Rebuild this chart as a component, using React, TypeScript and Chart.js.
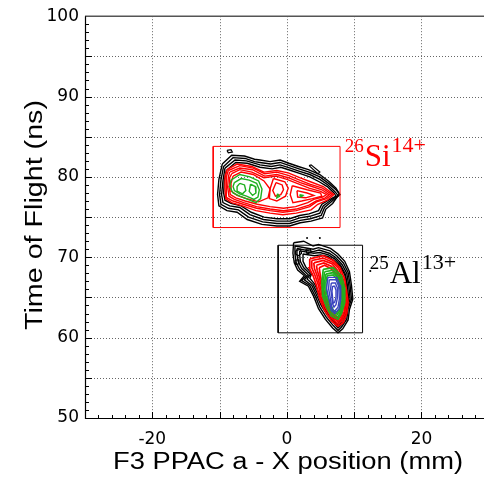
import React, { useEffect, useRef } from "react";
import { Chart, registerables } from "chart.js";

Chart.register(...registerables);

// Axis ranges and tick labels
const X_MIN = -30;
const X_MAX = 28.7;
const Y_MIN = 50;
const Y_MAX = 100;
const X_TICK_LABELS = [-20, 0, 20];
const Y_TICK_LABELS = [50, 60, 70, 80, 90, 100];
const X_GRID = [-20, -10, 0, 10, 20];
const Y_GRID = [55, 60, 65, 70, 75, 80, 85, 90, 95];

const X_TITLE = "F3 PPAC a - X position (mm)";
const Y_TITLE = "Time of Flight (ns)";

// Gate boxes [xMin, xMax, yMin, yMax]
const SI_BOX = [-10.95, 7.9, 73.7, 83.8];
const AL_BOX = [-1.3, 11.25, 60.6, 71.5];

// Label anchors (data coords of baseline start)
const SI_LABEL_AT = [8.6, 81.3];
const AL_LABEL_AT = [12.3, 66.8];

// 26Si contours
const SI_BLACK_OUT = [[-9.6,81.6],[-8.2,82.7],[-6.3,82.6],[-4.8,82.2],[-4.0,82.1],[-2.5,81.9],[-1.0,82.1],[0.3,81.7],[1.7,81.3],[3.2,80.9],[4.9,80.3],[6.3,79.4],[7.3,78.6],[7.8,77.9],[6.8,76.7],[5.8,76.0],[5.3,74.9],[3.6,74.5],[2.0,74.3],[0.4,73.9],[-1.5,73.9],[-3.7,74.1],[-5.9,74.7],[-7.4,75.6],[-8.9,75.8],[-10.1,76.4],[-10.3,77.8],[-10.1,79.7]];
const SI_BLACK_0 = [[-9.4,81.3],[-8.0,82.4],[-6.2,82.3],[-4.8,81.9],[-4.0,81.8],[-2.4,81.6],[-1.0,81.8],[0.4,81.4],[1.8,81.0],[3.3,80.6],[4.9,80.0],[6.2,79.2],[7.3,78.4],[7.9,77.8],[6.6,76.9],[5.6,76.2],[5.1,75.2],[3.5,74.8],[2.0,74.6],[0.4,74.2],[-1.5,74.2],[-3.6,74.4],[-5.7,75.0],[-7.2,75.9],[-8.7,76.1],[-9.8,76.6],[-10.0,77.8],[-9.8,79.6]];
const SI_BLACK_1 = [[-9.2,81.1],[-7.7,82.1],[-6.0,82.0],[-4.0,81.5],[-2.3,81.3],[-1.0,81.5],[0.5,81.1],[1.9,80.7],[3.4,80.3],[4.9,79.7],[6.1,79.0],[7.1,78.2],[7.6,77.7],[6.4,77.0],[5.4,76.4],[4.9,75.5],[3.4,75.1],[1.9,74.9],[0.5,74.5],[-1.5,74.5],[-3.5,74.7],[-5.5,75.3],[-7.0,76.2],[-8.5,76.4],[-9.5,76.8],[-9.7,77.8],[-9.5,79.5]];
const SI_BLACK_2 = [[-9.0,80.8],[-7.6,81.8],[-5.9,81.7],[-4.0,81.2],[-2.2,81.0],[-0.9,81.2],[0.6,80.8],[2.0,80.4],[3.4,80.0],[4.8,79.4],[6.0,78.8],[7.0,78.0],[7.3,77.6],[6.2,77.1],[5.2,76.6],[4.7,75.8],[3.3,75.4],[1.9,75.2],[0.4,74.8],[-1.5,74.8],[-3.4,75.0],[-5.3,75.6],[-6.8,76.4],[-8.3,76.7],[-9.2,77.1],[-9.4,78.0],[-9.3,79.5]];
const SI_BLACK_SPOT_1 = [[-8.9,83.3],[-8.3,83.4],[-8.1,83.1],[-8.7,83.0]];
const SI_BLACK_SPOT_2 = [[3.3,81.4],[3.6,81.5],[4.9,80.6],[4.6,80.4]];
const SI_RED_0 = [[-8.9,80.9],[-7.4,81.6],[-5.2,81.3],[-3.4,80.6],[-1.5,80.8],[0.2,80.5],[1.9,79.9],[3.5,79.4],[5.4,78.8],[7.0,77.8],[6.0,77.1],[4.6,76.6],[3.6,75.9],[1.4,75.5],[-0.6,75.3],[-2.5,75.5],[-4.6,75.8],[-6.6,76.4],[-8.2,76.8],[-9.1,77.3],[-9.2,78.6],[-9.2,80.0]];
const SI_RED_1 = [[-8.7,80.8],[-7.0,81.4],[-5.0,81.1],[-3.3,80.4],[-1.5,80.6],[0.2,80.2],[1.9,79.6],[3.4,79.1],[5.3,78.6],[6.7,77.8],[5.9,77.3],[4.4,76.9],[3.4,76.3],[1.4,75.8],[-0.6,75.6],[-2.5,75.8],[-4.5,76.1],[-6.5,76.6],[-8.0,77.0],[-8.9,77.4],[-9.0,78.6],[-9.0,80.0]];
const SI_RED_2 = [[-8.5,80.6],[-7.0,81.1],[-5.1,80.9],[-3.3,80.1],[-1.5,80.3],[0.2,79.9],[2.0,79.3],[3.4,78.9],[5.2,78.4],[6.3,77.8],[5.7,77.4],[4.3,77.0],[3.3,76.5],[1.4,76.0],[-0.5,75.8],[-2.5,76.0],[-4.5,76.3],[-6.4,76.8],[-7.8,77.2],[-8.6,77.6],[-8.8,78.7],[-8.7,80.0]];
const SI_RED_3 = [[-8.2,80.4],[-7.0,80.9],[-5.2,80.6],[-3.4,79.9],[-1.6,80.1],[0.0,79.7],[1.8,79.1],[3.3,78.6],[5.0,78.2],[5.9,77.8],[5.3,77.5],[4.0,77.2],[3.1,76.8],[1.3,76.3],[-0.5,76.1],[-2.5,76.3],[-4.4,76.6],[-6.2,77.0],[-7.6,77.4],[-8.4,77.8],[-8.6,78.8],[-8.5,79.9]];
const SI_RED_4 = [[-8.0,80.1],[-6.8,80.6],[-5.0,80.3],[-3.4,79.5],[-2.5,78.5],[-2.8,77.4],[-4.2,76.9],[-6.0,77.3],[-7.4,77.7],[-8.2,78.2],[-8.3,79.2]];
const SI_RED_5 = [[-2.0,79.8],[-0.3,79.4],[0.2,78.6],[-0.2,77.6],[-1.5,77.0],[-2.6,77.3],[-2.5,78.5]];
const SI_RED_6 = [[0.8,78.9],[3.0,78.4],[5.0,78.0],[5.2,77.6],[3.8,77.3],[2.2,77.0],[0.9,76.8],[0.5,77.8]];
const SI_RED_7 = [[1.5,78.3],[3.0,78.0],[4.0,77.7],[2.8,77.4],[1.6,77.5]];
const SI_RED_8 = [[-1.6,79.3],[-0.7,79.0],[-0.5,78.4],[-0.9,77.8],[-1.7,77.6],[-2.1,78.3]];
const SI_GREEN_1 = [[-8.3,79.6],[-7.0,80.3],[-5.5,80.0],[-4.2,79.5],[-3.7,78.5],[-3.9,77.3],[-4.6,76.8],[-5.8,77.2],[-7.0,77.6],[-8.0,78.0],[-8.5,78.8]];
const SI_GREEN_2 = [[-7.8,79.3],[-6.8,79.8],[-5.6,79.6],[-4.5,79.2],[-4.1,78.4],[-4.3,77.5],[-4.9,77.2],[-6.0,77.6],[-7.0,77.9],[-7.8,78.3],[-8.0,78.8]];
const SI_GREEN_3 = [[-7.0,79.2],[-6.3,79.0],[-6.1,78.3],[-6.6,77.9],[-7.3,78.2],[-7.4,78.8]];
const SI_GREEN_4 = [[-5.4,79.1],[-4.7,78.8],[-4.6,78.0],[-5.1,77.7],[-5.6,78.2]];
const SI_GREEN_5 = [[-1.4,77.9],[-1.1,77.6],[-1.5,77.4]];
const SI_GREEN_6 = [[1.9,77.8],[2.4,77.7],[2.1,77.5]];

// 25Al contours
const AL_BLACK_0 = [[1.0,71.8],[2.5,72.0],[3.9,71.4],[4.7,71.6],[6.5,71.1],[7.6,70.4],[8.6,69.5],[9.3,68.2],[9.6,66.5],[9.8,64.8],[9.3,63.5],[9.1,62.2],[8.3,61.1],[7.6,60.6],[6.8,61.2],[5.7,62.3],[4.7,63.6],[4.0,65.1],[3.2,66.4],[1.9,67.0],[2.6,67.7],[1.6,68.4],[1.1,69.3],[0.9,70.5]];
const AL_BLACK_1 = [[1.2,71.4],[3.9,71.0],[4.7,71.2],[6.4,70.8],[7.4,70.2],[8.4,69.3],[9.1,68.1],[9.4,66.5],[9.6,64.8],[9.1,63.6],[8.9,62.3],[8.1,61.3],[7.6,60.9],[6.9,61.5],[5.9,62.5],[4.9,63.8],[4.2,65.2],[3.4,66.5],[2.2,67.1],[2.9,67.7],[1.9,68.5],[1.4,69.3],[1.2,70.4]];
const AL_BLACK_2 = [[1.5,71.1],[3.9,70.7],[4.8,70.9],[6.3,70.5],[7.2,70.0],[8.2,69.1],[8.9,68.0],[9.2,66.5],[9.4,64.8],[8.9,63.6],[8.7,62.4],[8.0,61.5],[7.6,61.2],[7.0,61.8],[6.0,62.8],[5.1,64.0],[4.4,65.3],[3.7,66.5],[2.6,67.2],[3.2,67.8],[2.2,68.6],[1.7,69.4],[1.5,70.4]];
const AL_BLACK_3 = [[1.9,70.8],[4.0,70.5],[4.9,70.6],[6.2,70.3],[7.1,69.8],[8.0,69.0],[8.7,67.9],[9.0,66.5],[9.2,64.8],[8.8,63.6],[8.5,62.5],[7.9,61.7],[7.5,61.4],[7.0,62.0],[6.1,63.0],[5.3,64.1],[4.6,65.4],[3.9,66.6],[3.0,67.3],[3.5,67.9],[2.5,68.7],[2.0,69.5],[1.9,70.3]];
const AL_BLACK_4 = [[2.4,70.4],[4.1,70.2],[5.0,70.3],[6.1,70.1],[7.0,69.6],[7.9,68.9],[8.6,67.8],[8.9,66.5],[9.0,64.8],[8.7,63.6],[8.4,62.6],[7.8,61.9],[7.4,61.6],[7.0,62.2],[6.2,63.1],[5.5,64.2],[4.8,65.5],[4.1,66.7],[3.4,67.4],[3.7,68.0],[2.8,68.8],[2.4,69.5]];
const AL_BLACK_LOOP_1 = [[1.3,70.8],[2.0,71.0],[2.2,70.5],[1.7,70.2],[1.3,70.4]];
const AL_BLACK_LOOP_2 = [[2.8,71.0],[3.5,71.0],[3.6,70.6],[3.0,70.4]];
const AL_BLACK_LOOP_3 = [[1.2,69.6],[1.7,69.7],[1.8,69.2],[1.3,69.1]];
const STRAY_DOTS = [[3.0,72.4],[4.9,72.4],[12.4,68.3]];
const AL_RED_1 = [[3.4,69.8],[5.4,70.2],[6.9,69.6],[7.9,68.7],[8.6,67.3],[8.9,65.6],[9.1,64.4],[8.9,63.0],[8.4,61.9],[7.6,61.4],[6.6,62.1],[5.6,63.4],[4.9,64.8],[4.4,66.5],[3.9,67.7],[3.3,68.7]];
const AL_RED_2 = [[3.7,69.6],[5.4,69.9],[6.8,69.4],[7.7,68.6],[8.4,67.2],[8.7,65.6],[8.9,64.4],[8.7,63.1],[8.2,62.1],[7.6,61.7],[6.7,62.4],[5.8,63.6],[5.1,64.9],[4.7,66.5],[4.2,67.7],[3.7,68.7]];
const AL_RED_3 = [[4.0,69.3],[5.4,69.6],[6.7,69.2],[7.5,68.4],[8.2,67.1],[8.5,65.6],[8.7,64.4],[8.5,63.2],[8.1,62.3],[7.6,62.0],[6.8,62.6],[6.0,63.8],[5.3,65.0],[4.9,66.5],[4.5,67.7],[4.1,68.6]];
const AL_RED_4 = [[4.4,69.0],[5.5,69.3],[6.6,68.9],[7.4,68.2],[8.0,67.0],[8.3,65.6],[8.5,64.4],[8.3,63.3],[8.0,62.5],[7.6,62.2],[6.9,62.8],[6.1,63.9],[5.5,65.1],[5.1,66.5],[4.8,67.6],[4.5,68.4]];
const AL_RED_5 = [[4.8,68.7],[5.6,69.0],[6.5,68.6],[7.2,68.0],[7.8,66.9],[8.1,65.6],[8.3,64.4],[8.1,63.4],[7.8,62.7],[7.6,62.4],[7.0,63.0],[6.2,64.0],[5.7,65.2],[5.3,66.5],[5.0,67.6]];
const AL_GREEN_1 = [[5.4,68.5],[6.9,68.7],[8.1,67.7],[8.6,66.1],[8.6,64.4],[8.1,63.0],[7.6,62.3],[6.6,62.7],[5.9,63.8],[5.3,65.2],[5.2,66.9]];
const AL_GREEN_2 = [[5.6,68.2],[6.9,68.4],[7.9,67.5],[8.4,66.0],[8.4,64.5],[8.0,63.2],[7.6,62.6],[6.8,62.9],[6.1,64.0],[5.5,65.3],[5.4,66.9]];
const AL_GREEN_3 = [[5.8,67.9],[6.9,68.1],[7.8,67.3],[8.2,65.9],[8.2,64.6],[7.9,63.4],[7.5,62.9],[6.9,63.2],[6.3,64.2],[5.7,65.4],[5.6,66.9]];
const AL_GREEN_4 = [[6.0,67.7],[6.9,67.8],[7.6,67.1],[8.0,65.8],[8.0,64.7],[7.8,63.6],[7.4,63.1],[6.9,63.4],[6.4,64.3],[5.9,65.5],[5.8,66.9]];
const AL_BLUE_1 = [[6.1,67.5],[7.4,67.5],[7.9,66.5],[8.0,64.8],[7.8,63.6],[7.1,63.0],[6.6,63.4],[6.3,64.6],[5.9,66.1]];
const AL_BLUE_2 = [[6.3,67.2],[7.3,67.2],[7.7,66.4],[7.8,64.8],[7.6,63.8],[7.1,63.3],[6.7,63.6],[6.5,64.7],[6.2,66.1]];
const AL_BLUE_3 = [[6.6,66.8],[7.2,66.8],[7.5,66.2],[7.5,64.9],[7.3,64.1],[7.0,63.8],[6.8,64.2],[6.7,65.0],[6.5,66.1]];
const AL_BLUE_4 = [[6.8,66.4],[7.1,66.4],[7.3,65.9],[7.3,65.0],[7.1,64.4],[6.9,64.3],[6.8,64.9],[6.7,65.8]];

const BLACK = "#000000";
const RED = "#ff0000";
const GREEN = "#1fb01f";
const BLUE = "#3a44c0";

const TITLE_FONT = "23px 'Liberation Sans', Arial, sans-serif";
const TICK_FONT_FAMILY = "'DejaVu Sans', sans-serif";

const closed = (pts: number[][]) => [...pts, pts[0]].map(([x, y]) => ({ x, y }));
const box = (b: number[]) => closed([[b[0], b[2]], [b[1], b[2]], [b[1], b[3]], [b[0], b[3]]]);

function contour(pts: number[][], color: string, width = 1.4) {
  return {
    data: closed(pts),
    borderColor: color,
    backgroundColor: color,
    borderWidth: width,
    showLine: true,
    pointRadius: 0,
    tension: 0,
  };
}

const overlay = {
  id: "overlay",
  beforeDatasetsDraw(chart: any) {
    const { ctx, chartArea: a, scales } = chart;
    const xs = scales.x;
    const ys = scales.y;
    const right = chart.width;
    ctx.save();
    // dotted grid
    ctx.strokeStyle = "#666";
    ctx.lineWidth = 1;
    ctx.setLineDash([1, 2]);
    for (const v of X_GRID) {
      const px = Math.round(xs.getPixelForValue(v)) + 0.5;
      ctx.beginPath();
      ctx.moveTo(px, a.top);
      ctx.lineTo(px, a.bottom);
      ctx.stroke();
    }
    for (const v of Y_GRID) {
      const py = Math.round(ys.getPixelForValue(v)) + 0.5;
      ctx.beginPath();
      ctx.moveTo(a.left, py);
      ctx.lineTo(right, py);
      ctx.stroke();
    }
    ctx.setLineDash([]);
    // inward ticks
    ctx.strokeStyle = "#000";
    for (let v = Y_MIN + 1; v < Y_MAX; v += 1) {
      const py = Math.round(ys.getPixelForValue(v)) + 0.5;
      const len = v % 5 === 0 ? 7 : 4;
      ctx.beginPath();
      ctx.moveTo(a.left, py);
      ctx.lineTo(a.left + len, py);
      ctx.stroke();
    }
    for (let v = -28; v < 30; v += 2) {
      const px = Math.round(xs.getPixelForValue(v)) + 0.5;
      if (px > right) break;
      const len = v % 10 === 0 ? 6 : 3;
      ctx.beginPath();
      ctx.moveTo(px, a.bottom);
      ctx.lineTo(px, a.bottom - len);
      ctx.stroke();
    }
    // frame
    ctx.strokeStyle = "#555";
    ctx.lineWidth = 1.5;
    ctx.beginPath();
    ctx.moveTo(a.left, a.top);
    ctx.lineTo(right, a.top);
    ctx.stroke();
    ctx.strokeStyle = "#000";
    ctx.lineWidth = 1.2;
    ctx.beginPath();
    ctx.moveTo(a.left + 0.5, a.top);
    ctx.lineTo(a.left + 0.5, a.bottom + 0.5);
    ctx.lineTo(right, a.bottom + 0.5);
    ctx.stroke();
    ctx.restore();
  },
  afterDatasetsDraw(chart: any) {
    const { ctx, scales } = chart;
    const xs = scales.x;
    const ys = scales.y;
    ctx.save();
    const drawIso = (at: number[], mass: string, sym: string, charge: string, color: string) => {
      let x = xs.getPixelForValue(at[0]);
      const y = ys.getPixelForValue(at[1]);
      ctx.fillStyle = color;
      ctx.textAlign = "left";
      ctx.textBaseline = "alphabetic";
      ctx.font = "19px 'Liberation Serif', serif";
      ctx.fillText(mass, x, y - 14);
      x += ctx.measureText(mass).width + 1;
      ctx.font = "31px 'Liberation Serif', serif";
      ctx.fillText(sym, x, y);
      x += ctx.measureText(sym).width + 1;
      ctx.font = "22px 'Liberation Serif', serif";
      ctx.fillText(charge, x, y - 14);
    };
    drawIso(SI_LABEL_AT, "26", "Si", "14+", RED);
    drawIso(AL_LABEL_AT, "25", "Al", "13+", BLACK);

    // axis titles (horizontally widened to match reference lettering)
    ctx.fillStyle = "#000";
    ctx.font = TITLE_FONT;
    ctx.textAlign = "center";
    ctx.textBaseline = "middle";
    ctx.save();
    ctx.translate(288, 463);
    ctx.scale(350 / ctx.measureText(X_TITLE).width, 1);
    ctx.fillText(X_TITLE, 0, 0);
    ctx.restore();
    ctx.save();
    ctx.translate(36, 215);
    ctx.rotate(-Math.PI / 2);
    ctx.scale(230 / ctx.measureText(Y_TITLE).width, 1);
    ctx.fillText(Y_TITLE, 0, 0);
    ctx.restore();
    ctx.restore();
  },
};

export default function App() {
  const ref = useRef<HTMLCanvasElement | null>(null);
  useEffect(() => {
    if (!ref.current) return;
    // Chart.js paints the first dataset on top, so boxes and inner levels come first.
    const datasets: any[] = [
      { data: box(SI_BOX), borderColor: RED, borderWidth: 1, showLine: true, pointRadius: 0, tension: 0 },
      { data: box(AL_BOX), borderColor: BLACK, borderWidth: 1, showLine: true, pointRadius: 0, tension: 0 },
      {
        data: STRAY_DOTS.map(([x, y]) => ({ x, y })),
        showLine: false,
        pointRadius: 1,
        pointBorderWidth: 0,
        backgroundColor: BLACK,
        borderColor: BLACK,
      },
      contour(AL_BLUE_1, BLUE, 1.4), contour(AL_BLUE_2, BLUE, 1.4), contour(AL_BLUE_3, BLUE, 1.4), contour(AL_BLUE_4, BLUE, 1.4),
      contour(AL_GREEN_1, GREEN, 1.7), contour(AL_GREEN_2, GREEN, 1.7), contour(AL_GREEN_3, GREEN, 1.7), contour(AL_GREEN_4, GREEN, 1.7),
      contour(SI_GREEN_1, GREEN), contour(SI_GREEN_2, GREEN), contour(SI_GREEN_3, GREEN), contour(SI_GREEN_4, GREEN),
      contour(SI_GREEN_5, GREEN), contour(SI_GREEN_6, GREEN),
      contour(AL_RED_1, RED, 1.7), contour(AL_RED_2, RED, 1.7), contour(AL_RED_3, RED, 1.7), contour(AL_RED_4, RED, 1.7), contour(AL_RED_5, RED, 1.7),
      contour(SI_RED_0, RED), contour(SI_RED_1, RED), contour(SI_RED_2, RED), contour(SI_RED_3, RED), contour(SI_RED_4, RED),
      contour(SI_RED_5, RED), contour(SI_RED_6, RED), contour(SI_RED_7, RED), contour(SI_RED_8, RED),
      contour(AL_BLACK_0, BLACK), contour(AL_BLACK_1, BLACK), contour(AL_BLACK_2, BLACK), contour(AL_BLACK_3, BLACK), contour(AL_BLACK_4, BLACK),
      contour(AL_BLACK_LOOP_1, BLACK, 1.2), contour(AL_BLACK_LOOP_2, BLACK, 1.2), contour(AL_BLACK_LOOP_3, BLACK, 1.2),
      contour(SI_BLACK_OUT, BLACK), contour(SI_BLACK_0, BLACK), contour(SI_BLACK_1, BLACK), contour(SI_BLACK_2, BLACK),
      contour(SI_BLACK_SPOT_1, BLACK, 1.2), contour(SI_BLACK_SPOT_2, BLACK, 1.2),
    ];
    const chart = new Chart(ref.current, {
      type: "scatter",
      data: { datasets },
      options: {
        animation: false,
        responsive: false,
        layout: { padding: { left: 0, top: 6, right: 0, bottom: 0 } },
        plugins: { legend: { display: false }, tooltip: { enabled: false } },
        scales: {
          x: {
            type: "linear",
            min: X_MIN,
            max: X_MAX,
            grid: { display: false, drawTicks: false },
            border: { display: false },
            afterFit: (s: any) => { s.height = 62; },
            afterBuildTicks: (s: any) => { s.ticks = X_TICK_LABELS.map((v) => ({ value: v })); },
            ticks: {
              padding: 11,
              color: "#000",
              font: { size: 17, family: TICK_FONT_FAMILY },
            },
          },
          y: {
            type: "linear",
            min: Y_MIN,
            max: Y_MAX,
            grid: { display: false, drawTicks: false },
            border: { display: false },
            afterFit: (s: any) => { s.width = 85; },
            afterBuildTicks: (s: any) => { s.ticks = Y_TICK_LABELS.map((v) => ({ value: v })); },
            ticks: {
              padding: 6,
              color: "#000",
              font: { size: 17, family: TICK_FONT_FAMILY },
            },
          },
        },
      },
      plugins: [overlay],
    } as any);
    return () => chart.destroy();
  }, []);
  return (
    <div style={{ position: "fixed", left: 0, top: 0, width: 484, height: 480 }}>
      <canvas ref={ref} width={484} height={480} />
    </div>
  );
}
